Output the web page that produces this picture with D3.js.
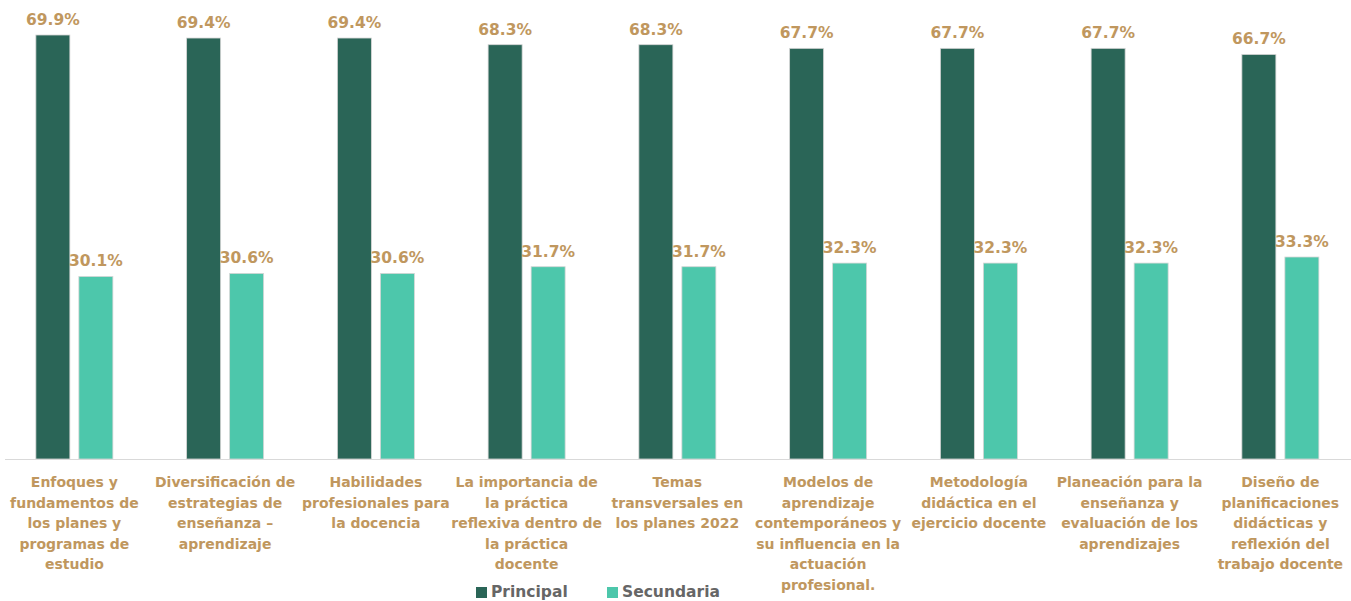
<!DOCTYPE html>
<html>
<head>
<meta charset="utf-8">
<script src="https://cdn.jsdelivr.net/npm/d3@7/dist/d3.min.js"></script>
<style>
  body { margin: 0; background: #fff; }
  svg { display: block; }
</style>
</head>
<body>
<svg id="chart" width="1351" height="601"></svg>
<script>
const categories = [
  "Enfoques y\nfundamentos de\nlos planes y\nprogramas de\nestudio",
  "Diversificación de\nestrategias de\nenseñanza –\naprendizaje",
  "Habilidades\nprofesionales para\nla docencia",
  "La importancia de\nla práctica\nreflexiva dentro de\nla práctica\ndocente",
  "Temas\ntransversales en\nlos planes 2022",
  "Modelos de\naprendizaje\ncontemporáneos y\nsu influencia en la\nactuación\nprofesional.",
  "Metodología\ndidáctica en el\nejercicio docente",
  "Planeación para la\nenseñanza y\nevaluación de los\naprendizajes",
  "Diseño de\nplanificaciones\ndidácticas y\nreflexión del\ntrabajo docente"
];
const principal = [69.9, 69.4, 69.4, 68.3, 68.3, 67.7, 67.7, 67.7, 66.7];
const secundaria = [30.1, 30.6, 30.6, 31.7, 31.7, 32.3, 32.3, 32.3, 33.3];
const seriesNames = ["Principal", "Secundaria"];
const colors = ["#2A6557", "#4DC7AB"];

const svg = d3.select("#chart");
const baseY = 459;
const font = "'DejaVu Sans', sans-serif";
const tan = "#C0975E";

const x = d3.scaleBand().domain(d3.range(categories.length)).range([-1, 1355.75]).paddingInner(0).paddingOuter(0);
const y = d3.scaleLinear().domain([0, 69.9]).range([baseY, 35]);
const barW = 34;
const offs = [-38.5, 4.5];

const data = [];
categories.forEach((c, i) => {
  [principal[i], secundaria[i]].forEach((v, s) => data.push({i, s, v}));
});

const cx = i => x(i) + x.bandwidth() / 2;

svg.selectAll("rect.bar").data(data).enter().append("rect")
  .attr("class", "bar")
  .attr("x", d => cx(d.i) + offs[d.s])
  .attr("width", barW)
  .attr("y", d => y(d.v))
  .attr("height", d => baseY - y(d.v))
  .attr("fill", d => colors[d.s])
  .attr("stroke", "#d6d6d6")
  .attr("stroke-width", 0.8);

svg.append("line")
  .attr("x1", 5).attr("x2", 1351)
  .attr("y1", baseY + 0.5).attr("y2", baseY + 0.5)
  .attr("stroke", "#d9d9d9").attr("stroke-width", 1.2);

svg.selectAll("text.val").data(data).enter().append("text")
  .attr("class", "val")
  .attr("x", d => cx(d.i) + offs[d.s] + barW / 2)
  .attr("y", d => y(d.v) - 10)
  .attr("text-anchor", "middle")
  .attr("font-family", font)
  .attr("font-weight", "bold")
  .attr("font-size", 15.5)
  .attr("fill", tan)
  .text(d => d.v.toFixed(1) + "%");

const lab = svg.selectAll("text.cat").data(categories).enter().append("text")
  .attr("class", "cat")
  .attr("text-anchor", "middle")
  .attr("font-family", font)
  .attr("font-weight", "bold")
  .attr("font-size", 14)
  .attr("fill", tan);
lab.each(function(c, i) {
  const t = d3.select(this);
  c.split("\n").forEach((line, k) => {
    t.append("tspan").attr("x", cx(i)).attr("y", 487 + k * 20.6).text(line);
  });
});

const leg = svg.append("g");
const legX = [476, 607];
seriesNames.forEach((n, s) => {
  leg.append("rect").attr("x", legX[s]).attr("y", 587).attr("width", 11).attr("height", 11).attr("fill", colors[s]);
  leg.append("text").attr("x", legX[s] + 15).attr("y", 597)
    .attr("font-family", font).attr("font-weight", "bold").attr("font-size", 15.5)
    .attr("fill", "#666").text(n);
});
</script>
</body>
</html>
